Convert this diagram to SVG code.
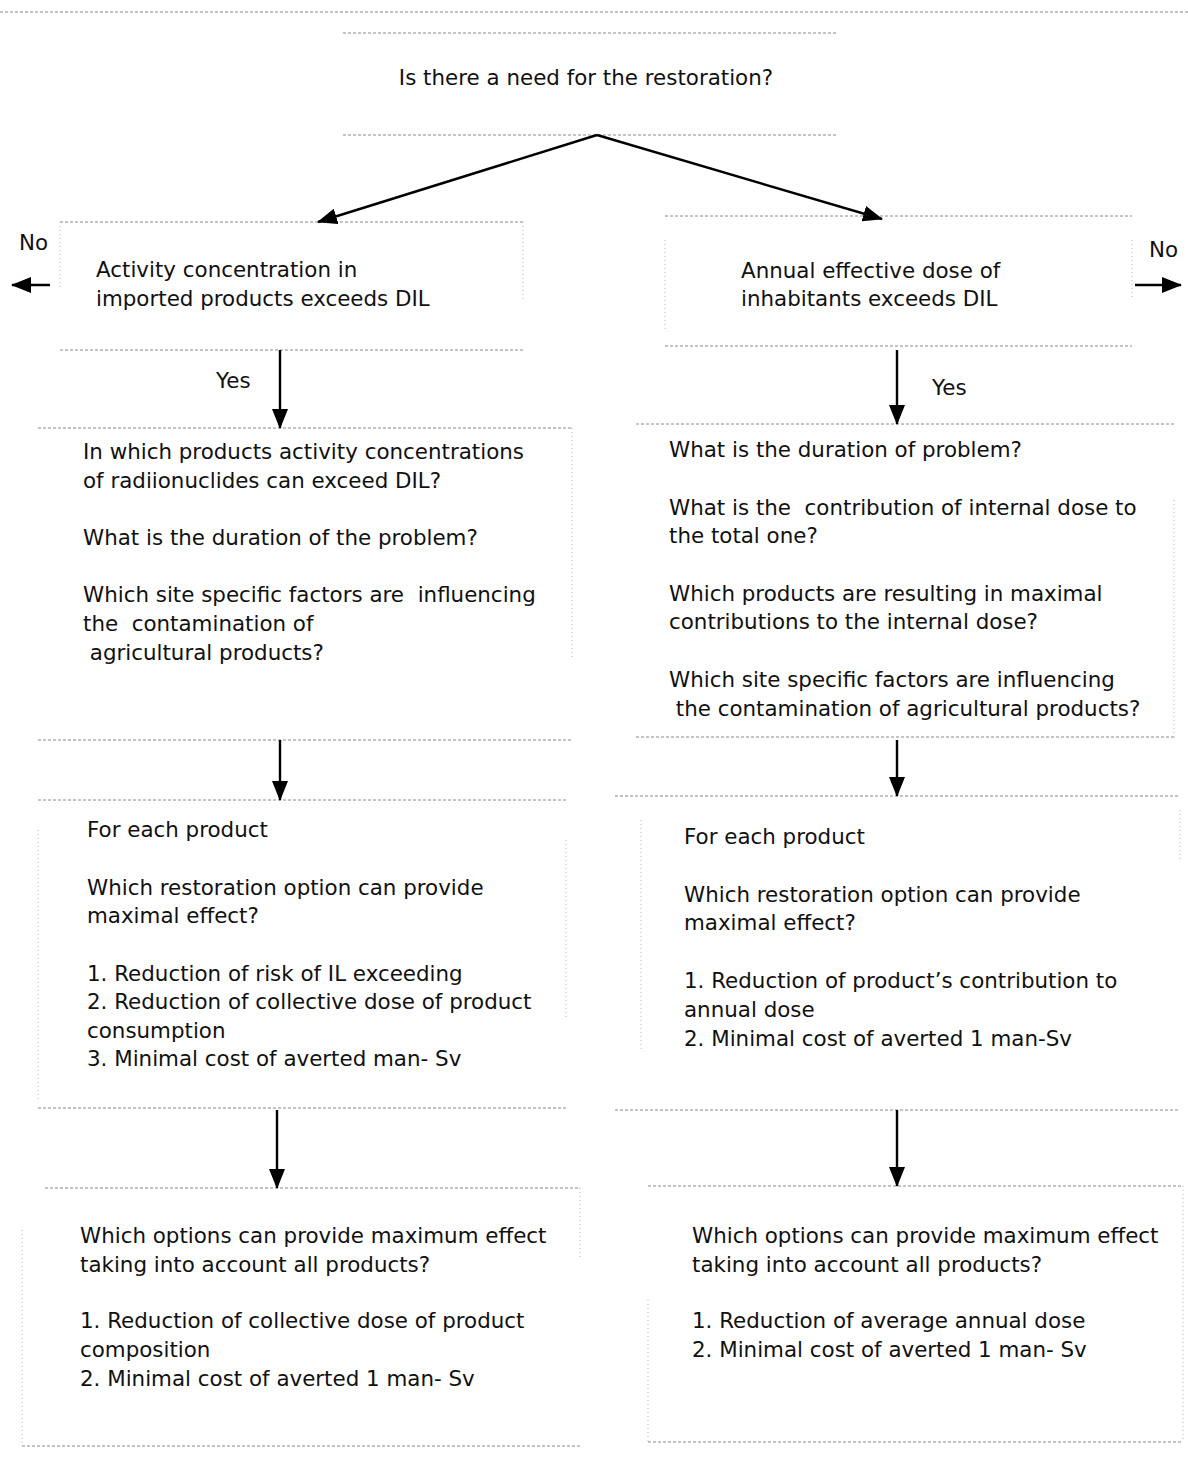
<svg xmlns="http://www.w3.org/2000/svg" width="1188" height="1470" viewBox="0 0 1188 1470">
<style>
text{font-family:"DejaVu Sans","Liberation Sans",sans-serif;font-size:21.4px;fill:#111}
.hl{stroke:#8a8a8a;stroke-width:1;stroke-dasharray:3 2;fill:none}
.vl{stroke:#b8b8b8;stroke-width:1;stroke-dasharray:1 3;fill:none}
.c{stroke:#000;stroke-width:2.4;fill:none;marker-end:url(#ah)}
</style>
<defs>
<marker id="ah" markerUnits="userSpaceOnUse" markerWidth="20" markerHeight="16" refX="19" refY="8" orient="auto">
<path d="M0,0 L20,8 L0,16 Z" fill="#000"/>
</marker>
</defs>
<rect width="1188" height="1470" fill="#fff"/>
<line class="hl" x1="0" y1="12" x2="1188" y2="12"/>

<g id="n0">
<line class="hl" x1="343" y1="33" x2="838" y2="33"/>
<line class="hl" x1="343" y1="135" x2="838" y2="135"/>
<text x="586" y="85" text-anchor="middle">Is there a need for the restoration?</text>
</g>

<g id="n1">
<line class="hl" x1="60" y1="222" x2="523" y2="222"/>
<line class="hl" x1="60" y1="350" x2="523" y2="350"/>
<line class="vl" x1="60" y1="222" x2="60" y2="290"/>
<line class="vl" x1="523" y1="222" x2="523" y2="300"/>
<text x="96" y="277">Activity concentration in</text>
<text x="96" y="306">imported products exceeds DIL</text>
</g>

<g id="n2">
<line class="hl" x1="665" y1="216" x2="1132" y2="216"/>
<line class="hl" x1="665" y1="346" x2="1132" y2="346"/>
<line class="vl" x1="665" y1="240" x2="665" y2="330"/>
<line class="vl" x1="1132" y1="240" x2="1132" y2="300"/>
<text x="741" y="278">Annual effective dose of</text>
<text x="741" y="306">inhabitants exceeds DIL</text>
</g>

<g id="n3">
<line class="hl" x1="38" y1="428" x2="572" y2="428"/>
<line class="hl" x1="38" y1="740" x2="572" y2="740"/>
<line class="vl" x1="572" y1="428" x2="572" y2="660"/>
<text x="83" y="459">In which products activity concentrations</text>
<text x="83" y="488">of radiionuclides can exceed DIL?</text>
<text x="83" y="545">What is the duration of the problem?</text>
<text x="83" y="602" xml:space="preserve">Which site specific factors are  influencing</text>
<text x="83" y="631" xml:space="preserve">the  contamination of</text>
<text x="83" y="660" xml:space="preserve"> agricultural products?</text>
</g>

<g id="n4">
<line class="hl" x1="636" y1="424" x2="1174" y2="424"/>
<line class="hl" x1="636" y1="737" x2="1174" y2="737"/>
<line class="vl" x1="1174" y1="500" x2="1174" y2="737"/>
<text x="669" y="457">What is the duration of problem?</text>
<text x="669" y="515" xml:space="preserve">What is the  contribution of internal dose to</text>
<text x="669" y="543">the total one?</text>
<text x="669" y="601">Which products are resulting in maximal</text>
<text x="669" y="629">contributions to the internal dose?</text>
<text x="669" y="687">Which site specific factors are influencing</text>
<text x="669" y="716" xml:space="preserve"> the contamination of agricultural products?</text>
</g>

<g id="n5">
<line class="hl" x1="38" y1="800" x2="566" y2="800"/>
<line class="hl" x1="38" y1="1108" x2="566" y2="1108"/>
<line class="vl" x1="38" y1="830" x2="38" y2="1100"/>
<line class="vl" x1="566" y1="840" x2="566" y2="1020"/>
<text x="87" y="837">For each product</text>
<text x="87" y="895">Which restoration option can provide</text>
<text x="87" y="923">maximal effect?</text>
<text x="87" y="981">1. Reduction of risk of IL exceeding</text>
<text x="87" y="1009">2. Reduction of collective dose of product</text>
<text x="87" y="1038">consumption</text>
<text x="87" y="1066">3. Minimal cost of averted man- Sv</text>
</g>

<g id="n6">
<line class="hl" x1="615" y1="796" x2="1180" y2="796"/>
<line class="hl" x1="615" y1="1110" x2="1180" y2="1110"/>
<line class="vl" x1="641" y1="820" x2="641" y2="1050"/>
<line class="vl" x1="1180" y1="810" x2="1180" y2="860"/>
<text x="684" y="844">For each product</text>
<text x="684" y="902">Which restoration option can provide</text>
<text x="684" y="930">maximal effect?</text>
<text x="684" y="988">1. Reduction of product’s contribution to</text>
<text x="684" y="1017">annual dose</text>
<text x="684" y="1046">2. Minimal cost of averted 1 man-Sv</text>
</g>

<g id="n7">
<line class="hl" x1="45" y1="1188" x2="580" y2="1188"/>
<line class="hl" x1="22" y1="1446" x2="580" y2="1446"/>
<line class="vl" x1="22" y1="1230" x2="22" y2="1446"/>
<line class="vl" x1="580" y1="1188" x2="580" y2="1260"/>
<text x="80" y="1243">Which options can provide maximum effect</text>
<text x="80" y="1272">taking into account all products?</text>
<text x="80" y="1328">1. Reduction of collective dose of product</text>
<text x="80" y="1357">composition</text>
<text x="80" y="1386">2. Minimal cost of averted 1 man- Sv</text>
</g>

<g id="n8">
<line class="hl" x1="648" y1="1186" x2="1183" y2="1186"/>
<line class="hl" x1="648" y1="1442" x2="1183" y2="1442"/>
<line class="vl" x1="648" y1="1300" x2="648" y2="1442"/>
<line class="vl" x1="1183" y1="1186" x2="1183" y2="1442"/>
<text x="692" y="1243">Which options can provide maximum effect</text>
<text x="692" y="1272">taking into account all products?</text>
<text x="692" y="1328">1. Reduction of average annual dose</text>
<text x="692" y="1357">2. Minimal cost of averted 1 man- Sv</text>
</g>

<g id="connectors">
<line class="c" x1="597" y1="135" x2="318" y2="222"/>
<line class="c" x1="597" y1="135" x2="882" y2="219"/>
<line class="c" x1="50" y1="285" x2="12" y2="285"/>
<text x="19" y="250">No</text>
<line class="c" x1="1135" y1="285" x2="1181" y2="285"/>
<text x="1149" y="257">No</text>
<line class="c" x1="280" y1="350" x2="280" y2="428"/>
<text x="216" y="388">Yes</text>
<line class="c" x1="897" y1="350" x2="897" y2="424"/>
<text x="932" y="395">Yes</text>
<line class="c" x1="280" y1="740" x2="280" y2="800"/>
<line class="c" x1="897" y1="740" x2="897" y2="796"/>
<line class="c" x1="277" y1="1110" x2="277" y2="1188"/>
<line class="c" x1="897" y1="1110" x2="897" y2="1186"/>
</g>
</svg>
